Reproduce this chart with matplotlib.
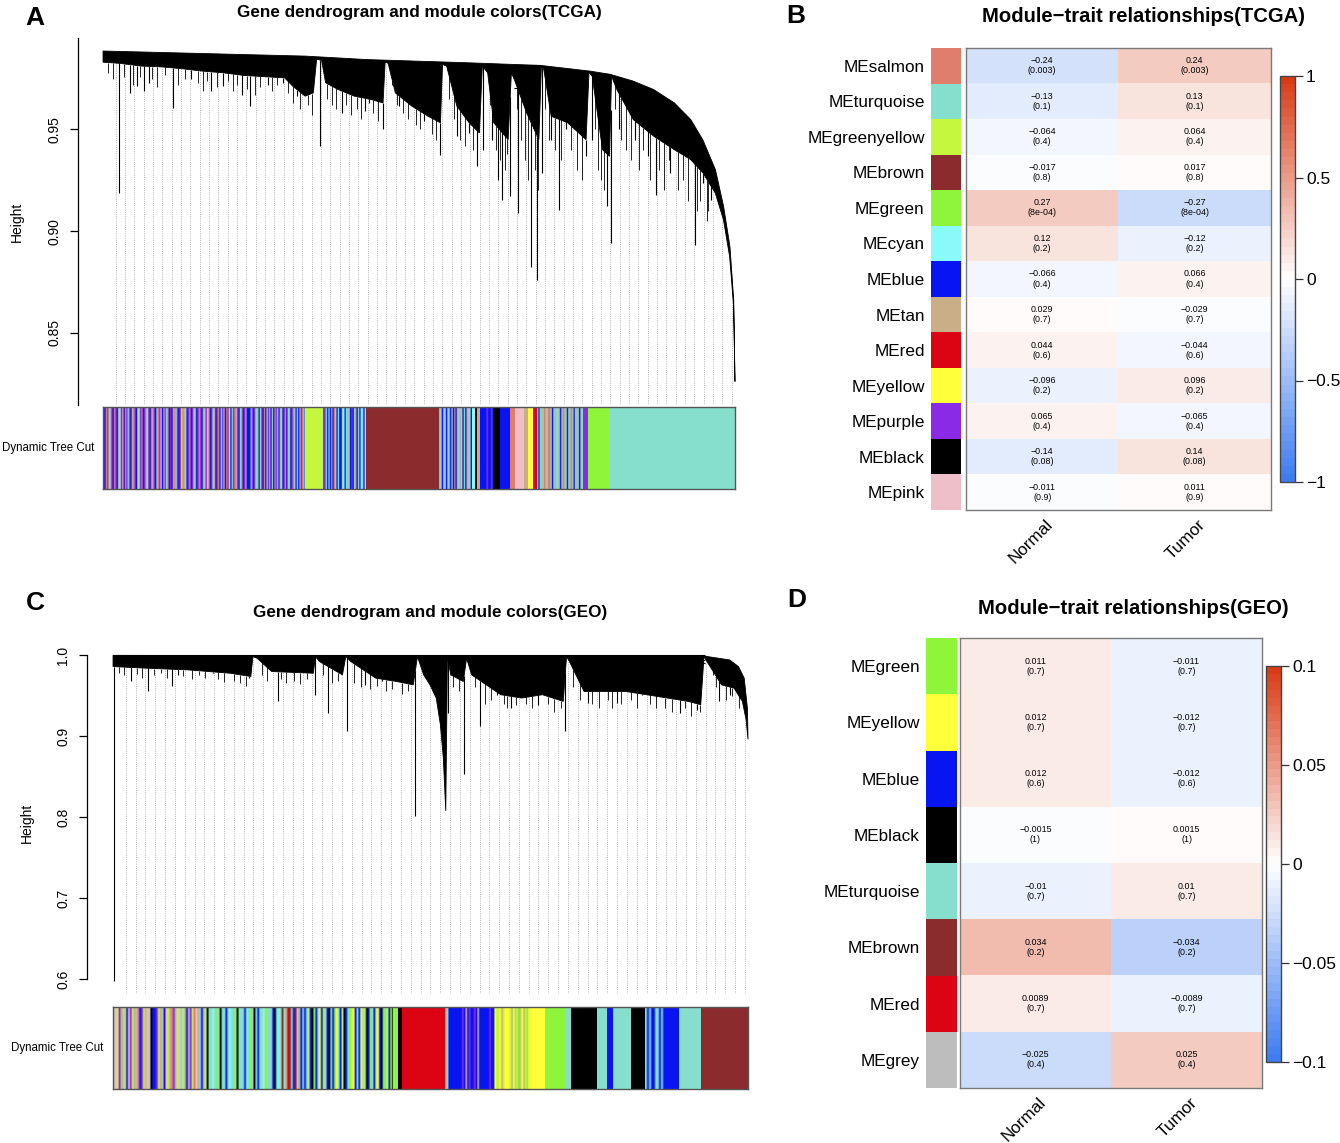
import numpy as np
import matplotlib
matplotlib.use("Agg")
import matplotlib.pyplot as plt
from matplotlib.colors import LinearSegmentedColormap, Normalize, to_rgb
from matplotlib.cm import ScalarMappable

plt.rcParams['font.family'] = ['Liberation Sans', 'DejaVu Sans']

W, H = 1340, 1143

module_hex = {
    'salmon': '#E07E6E', 'turquoise': '#86DFCC', 'greenyellow': '#C5F73F',
    'brown': '#8B2B2E', 'green': '#8EF53B', 'cyan': '#8AF9F9', 'blue': '#0814F2',
    'tan': '#C9AE88', 'red': '#DC0312', 'yellow': '#FFFF3A', 'purple': '#8A2AE6',
    'black': '#000000', 'pink': '#EEBFC9', 'grey': '#BDBDBD',
}
stripe_codes = {'p': 'purple', 'b': 'blue', 's': 'salmon', 't': 'turquoise', 'n': 'tan',
                'g': 'greenyellow', 'k': 'pink', 'r': 'brown', 'c': 'cyan', 'y': 'yellow',
                'e': 'red', 'm': 'green', 'x': 'black', 'o': 'grey'}

# ---- TCGA dendrogram (x: leaf position as fraction of genes, y: height)
tcga_top_f = [0.0, 0.32, 0.417, 0.579, 0.693, 0.771, 0.803, 0.839, 0.871, 0.904,
              0.930, 0.949, 0.969, 0.982, 0.992, 0.998, 1.0]
tcga_top_h = [0.9886, 0.9861, 0.9844, 0.9828, 0.9815, 0.9787, 0.9771, 0.9738, 0.9697, 0.9631,
              0.9549, 0.945, 0.9303, 0.9122, 0.8925, 0.8662, 0.826]
tcga_low_f = [0.0, 0.0278, 0.0602, 0.0927, 0.1251, 0.1576, 0.19, 0.2225, 0.2549, 0.2874,
              0.3003, 0.3198, 0.3328, 0.338, 0.3458, 0.3523, 0.3717, 0.3977, 0.4236, 0.4431,
              0.4464, 0.451, 0.4626, 0.4886, 0.5145, 0.534, 0.5372, 0.5437, 0.5599, 0.5794,
              0.5956, 0.6002, 0.6086, 0.6183, 0.641, 0.6462, 0.6508, 0.6703, 0.6897, 0.6936,
              0.6975, 0.7092, 0.7352, 0.7644, 0.769, 0.7741, 0.7904, 0.8014, 0.8047, 0.813,
              0.839, 0.8714, 0.9039, 0.9299, 0.9494, 0.9688, 0.9818, 0.9915, 0.9979, 1.0]
tcga_low_h = [0.9831, 0.9825, 0.9812, 0.9808, 0.9799, 0.9787, 0.9779, 0.9766, 0.976, 0.9754,
              0.9713, 0.9664, 0.968, 0.9845, 0.9841, 0.973, 0.9697, 0.9664, 0.9648, 0.9631,
              0.9831, 0.9828, 0.968, 0.9615, 0.9565, 0.9533, 0.982, 0.9812, 0.9615, 0.9533,
              0.9483, 0.9812, 0.9779, 0.9533, 0.945, 0.9779, 0.9746, 0.9582, 0.945, 0.9808,
              0.9795, 0.9565, 0.9533, 0.945, 0.9782, 0.9762, 0.9401, 0.9368, 0.9762, 0.9697,
              0.9549, 0.9467, 0.9401, 0.9352, 0.9286, 0.9188, 0.9056, 0.8876, 0.863, 0.826]
# long single branches hanging below the dense part
tcga_spike_f = [0.0245, 0.042, 0.0537, 0.0654, 0.0732, 0.1108, 0.1394, 0.1705, 0.19, 0.2192,
                0.2322, 0.2614, 0.2841, 0.3068, 0.3438, 0.3782, 0.4139, 0.4204, 0.4431, 0.4691,
                0.508, 0.5145, 0.534, 0.5599, 0.5794, 0.5911, 0.602, 0.615, 0.6248, 0.6313,
                0.6443, 0.6573, 0.6767, 0.6865, 0.6949, 0.7092, 0.7209, 0.732, 0.7644, 0.7741,
                0.7968, 0.8033, 0.8163, 0.8422, 0.8617, 0.8747, 0.8974, 0.9364, 0.9494, 0.9623]
tcga_spike_h = [0.9188, 0.968, 0.9713, 0.9689, 0.973, 0.9606, 0.9746, 0.9689, 0.9713, 0.9672,
                0.9615, 0.9721, 0.973, 0.9664, 0.9418, 0.9582, 0.959, 0.9631, 0.95, 0.9615,
                0.9541, 0.9582, 0.9377, 0.9467, 0.9483, 0.9319, 0.9401, 0.945, 0.9253, 0.9155,
                0.9171, 0.9089, 0.8826, 0.8761, 0.9286, 0.945, 0.9106, 0.95, 0.9368, 0.945,
                0.9122, 0.8941, 0.95, 0.945, 0.9368, 0.918, 0.9286, 0.8933, 0.9237, 0.9155]
# short hairs along the lower edge of the dense part
tcga_hair_f = [0.008, 0.015, 0.033, 0.048, 0.058, 0.078, 0.085, 0.098, 0.118, 0.13, 0.15,
               0.158, 0.165, 0.18, 0.198, 0.205, 0.212, 0.228, 0.24, 0.248, 0.268, 0.275,
               0.293, 0.3, 0.312, 0.325, 0.33, 0.355, 0.362, 0.368, 0.385, 0.392, 0.402, 0.408,
               0.428, 0.435, 0.458, 0.465, 0.475, 0.482, 0.495, 0.502, 0.52, 0.527, 0.548,
               0.555, 0.565, 0.572, 0.585, 0.592, 0.612, 0.622, 0.628, 0.636, 0.64, 0.655,
               0.662, 0.668, 0.672, 0.684, 0.688, 0.7, 0.705, 0.715, 0.725, 0.74, 0.75, 0.758,
               0.778, 0.783, 0.788, 0.792, 0.81, 0.82, 0.828, 0.835, 0.848, 0.855, 0.865, 0.88,
               0.888, 0.895, 0.91, 0.918, 0.925, 0.94, 0.945, 0.955, 0.958]
tcga_hair_h = [0.978, 0.975, 0.976, 0.972, 0.976, 0.975, 0.971, 0.977, 0.972, 0.975, 0.973,
               0.969, 0.974, 0.971, 0.974, 0.969, 0.972, 0.970, 0.967, 0.971, 0.969, 0.972,
               0.968, 0.963, 0.96, 0.962, 0.957, 0.965, 0.962, 0.96, 0.962, 0.957, 0.96, 0.955,
               0.958, 0.954, 0.972, 0.962, 0.958, 0.955, 0.952, 0.95, 0.948, 0.945, 0.965,
               0.955, 0.945, 0.942, 0.94, 0.938, 0.962, 0.94, 0.935, 0.93, 0.938, 0.96,
               0.945, 0.935, 0.925, 0.93, 0.92, 0.96, 0.945, 0.94, 0.935, 0.94, 0.93, 0.925,
               0.95, 0.93, 0.925, 0.92, 0.96, 0.945, 0.94, 0.935, 0.93, 0.94, 0.925, 0.93,
               0.92, 0.935, 0.92, 0.925, 0.915, 0.91, 0.915, 0.905, 0.91]
tcga_merge_f0 = [0.333, 0.417, 0.450, 0.599, 0.609, 0.651, 0.677, 0.680, 0.771, 0.797]
tcga_merge_f1 = [0.349, 0.450, 0.537, 0.693, 0.648, 0.664, 0.686, 0.686, 0.803, 0.803]
tcga_merge_h = [0.9853, 0.9836, 0.9828, 0.9815, 0.9784, 0.9705, 0.9549, 0.9508, 0.9771, 0.9565]

tcga_bar_edges = [0, 0.229, 0.320, 0.348, 0.416, 0.532, 0.584, 0.589, 0.592, 0.597, 0.604,
                  0.617, 0.628, 0.644, 0.652, 0.666, 0.672, 0.680, 0.687, 0.759, 0.767, 0.801, 1.0]
tcga_bar_mods = ['mixA1', 'mixA2', 'greenyellow', 'mixA3', 'brown', 'mixA4', 'cyan', 'black',
                 'tan', 'blue', 'mixA6', 'black', 'blue', 'salmon', 'pink', 'tan', 'yellow',
                 'red', 'mixA5', 'purple', 'green', 'turquoise']

# ---- GEO dendrogram
geo_top_f = [0.0, 0.93, 0.971, 0.985, 0.994, 0.999, 1.0]
geo_top_h = [0.9995, 0.9988, 0.9939, 0.9857, 0.9714, 0.9346, 0.896]
geo_low_f = [0.0, 0.053, 0.1186, 0.1842, 0.217, 0.2203, 0.2268, 0.2498, 0.3154, 0.3187,
             0.3252, 0.3613, 0.3666, 0.3744, 0.4138, 0.4466, 0.4728, 0.4794, 0.4892, 0.4991,
             0.509, 0.5155, 0.5201, 0.524, 0.5266, 0.5319, 0.5516, 0.5568, 0.5647, 0.6106,
             0.6434, 0.6762, 0.709, 0.7142, 0.7188, 0.7418, 0.7746, 0.8074, 0.8402, 0.873,
             0.9058, 0.9255, 0.9307, 0.9353, 0.9583, 0.978, 0.9911, 0.997, 1.0]
geo_low_h = [0.9857, 0.9837, 0.9816, 0.9775, 0.9735, 0.998, 0.996, 0.9796, 0.9775, 0.998,
             0.9919, 0.9755, 0.998, 0.9919, 0.9714, 0.9673, 0.9632, 0.998, 0.9755, 0.9632,
             0.9469, 0.9142, 0.8733, 0.8078, 0.998, 0.9755, 0.9673, 0.996, 0.9755, 0.951,
             0.9469, 0.951, 0.9428, 0.998, 0.9919, 0.955, 0.955, 0.955, 0.951, 0.9469,
             0.9428, 0.9387, 0.998, 0.9919, 0.9632, 0.9591, 0.9428, 0.92, 0.896]
geo_spike_f = [0.001, 0.0281, 0.055, 0.0924, 0.1022, 0.158, 0.2137, 0.2596, 0.3187, 0.3384,
               0.3679, 0.3974, 0.4236, 0.4466, 0.4761, 0.5273, 0.5529, 0.5778, 0.604, 0.627,
               0.6696, 0.7123, 0.7484, 0.7943, 0.8336, 0.8664, 0.8927, 0.9189, 0.955, 0.9714]
geo_spike_h = [0.598, 0.9673, 0.955, 0.9612, 0.9755, 0.9775, 0.9714, 0.9428, 0.951, 0.9285,
               0.906, 0.9632, 0.9673, 0.9714, 0.8017, 0.9285, 0.8528, 0.9121, 0.951, 0.9346,
               0.9387, 0.906, 0.9407, 0.9407, 0.951, 0.949, 0.9285, 0.9326, 0.9428, 0.951]
geo_hair_f = [0.01, 0.018, 0.038, 0.045, 0.065, 0.075, 0.085, 0.11, 0.125, 0.135, 0.145,
              0.165, 0.175, 0.19, 0.2, 0.21, 0.235, 0.242, 0.265, 0.272, 0.285, 0.295, 0.305,
              0.33, 0.345, 0.355, 0.38, 0.39, 0.405, 0.415, 0.43, 0.44, 0.455, 0.465, 0.535,
              0.545, 0.57, 0.585, 0.595, 0.615, 0.62, 0.635, 0.65, 0.66, 0.685, 0.695, 0.705,
              0.725, 0.735, 0.755, 0.765, 0.78, 0.785, 0.8, 0.815, 0.825, 0.845, 0.855, 0.87,
              0.88, 0.9, 0.91, 0.925, 0.945, 0.95, 0.965, 0.975, 0.985]
geo_hair_h = [0.978, 0.975, 0.976, 0.972, 0.975, 0.978, 0.972, 0.974, 0.97, 0.975, 0.971,
              0.97, 0.967, 0.968, 0.965, 0.962, 0.975, 0.968, 0.97, 0.966, 0.968, 0.964, 0.97,
              0.975, 0.965, 0.968, 0.965, 0.96, 0.958, 0.962, 0.955, 0.958, 0.952, 0.955, 0.96,
              0.955, 0.96, 0.94, 0.945, 0.94, 0.935, 0.938, 0.94, 0.935, 0.94, 0.93, 0.935,
              0.96, 0.945, 0.94, 0.935, 0.945, 0.935, 0.94, 0.945, 0.935, 0.94, 0.935, 0.935,
              0.93, 0.935, 0.925, 0.93, 0.975, 0.96, 0.945, 0.95, 0.935]
geo_merge_f0 = [0.0, 0.84, 0.893]
geo_merge_f1 = [0.932, 0.932, 0.932]
geo_merge_h = [1.0, 0.994, 0.990]

geo_bar_edges = [0, 0.441, 0.449, 0.455, 0.523, 0.656, 0.680, 0.714, 0.722, 0.762, 0.778,
                 0.788, 0.815, 0.838, 0.869, 0.892, 0.926, 1.0]
geo_bar_mods = ['mixC1', 'green', 'black', 'red', 'mixC2', 'yellow', 'green', 'turquoise',
                'black', 'turquoise', 'blue', 'turquoise', 'black', 'mixC3', 'blue',
                'turquoise', 'brown']

# striped stretches of the Dynamic Tree Cut bars, left to right
mixed_stripes = {
    'mixA1': 'pbsptnpbspbtkpnbsptpbnspbgtpsbpnt'
             'pbsnpbtspkbnptsbpbnstpbpgsntbpsbp'
             'tnbpspbtnpksbptnbpsbtpnbspgbtpsnpbtsbpnb',
    'mixA2': 'bbtpbstnbtpbsbtpnbtbsptbntbpsbtnbpstbtbnpstb',
    'mixA3': 'pptbtbnbstbtbbtcbtntbpbtsbtbctbc',
    'mixA4': 'ntbotbtnbtbsbtontbtbnotb',
    'mixA5': 'tbtntsntsstbtnttnbtsntbtnstbtntbnt',
    'mixA6': 'bpbbpb',
    'mixC1': 'okgpnogbkpgnosbpgnkoxbbpgnobkgnspogktgnbopgskntbog'
             'xttctmtxttbtcttmxtttbctmtxtbttcmtttbxtctrtnertbetn'
             'btbtgbxmbtybgtbxtbmytbgxbtmgybtbytgxbmtbgybxtmgbmx',
    'mixC2': 'ntbbbbbbbbpbnbpbbpbnbbbbbbpbbyggyngyyygnymgnmyngmy',
    'mixC3': 'tbtbbttbtb',
}

# ---- module-trait tables
tcga_modules = ['salmon', 'turquoise', 'greenyellow', 'brown', 'green', 'cyan', 'blue',
                'tan', 'red', 'yellow', 'purple', 'black', 'pink']
tcga_r_normal = [-0.24, -0.13, -0.064, -0.017, 0.27, 0.12, -0.066, 0.029, 0.044, -0.096,
                 0.065, -0.14, -0.011]
tcga_r_tumor = [0.24, 0.13, 0.064, 0.017, -0.27, -0.12, 0.066, -0.029, -0.044, 0.096,
                -0.065, 0.14, 0.011]
tcga_p = ['0.003', '0.1', '0.4', '0.8', '8e-04', '0.2', '0.4', '0.7', '0.6', '0.2', '0.4',
          '0.08', '0.9']

geo_modules = ['green', 'yellow', 'blue', 'black', 'turquoise', 'brown', 'red', 'grey']
geo_r_normal = [0.011, 0.012, 0.012, -0.0015, -0.01, 0.034, 0.0089, -0.025]
geo_r_tumor = [-0.011, -0.012, -0.012, 0.0015, 0.01, -0.034, -0.0089, 0.025]
geo_p = ['0.7', '0.7', '0.6', '1', '0.7', '0.2', '0.7', '0.4']

traits = ['Normal', 'Tumor']

cmap = LinearSegmentedColormap.from_list('bwr', ['#3E7CF0', '#FFFFFF', '#D83C16'], N=50)

fig = plt.figure(figsize=(W / 100, H / 100), dpi=100)


def px_axes(x0, y0, x1, y1):
    return fig.add_axes([x0 / W, 1 - y1 / H, (x1 - x0) / W, (y1 - y0) / H])


def px_text(x, y, s, **kw):
    fig.text(x / W, 1 - y / H, s, ha='center', va='center', **kw)


def draw_dendro(box, xlim, ylim, ticks, ticklabels, bounds, top_f, top_h, low_f, low_h,
                sp_f, sp_h, hair_f, hair_h, m0, m1, mh, n_guides):
    ax = px_axes(*box)
    ax.set_xlim(*xlim)
    ax.set_ylim(*ylim)
    top_f, top_h = np.array(top_f), np.array(top_h)
    low_f, low_h = np.array(low_f), np.array(low_h)
    gx = np.linspace(0.02, 0.995, n_guides)
    ax.vlines(gx, ylim[0], np.interp(gx, top_f, top_h), colors='#a0a0a0',
              linestyles=(0, (1, 1.6)), lw=0.6, zorder=1)
    ax.fill(np.r_[top_f, low_f[::-1]], np.r_[top_h, low_h[::-1]], facecolor='black',
            edgecolor='black', lw=0.6, zorder=2)
    ax.vlines(hair_f, hair_h, np.interp(hair_f, low_f, low_h), colors='black', lw=0.6, zorder=3)
    ax.vlines(sp_f, sp_h, np.interp(sp_f, low_f, low_h), colors='black', lw=0.8, zorder=3)
    ax.hlines(mh, m0, m1, colors='black', lw=0.8, zorder=3)
    for side in ['top', 'right', 'bottom']:
        ax.spines[side].set_visible(False)
    ax.spines['left'].set_linewidth(0.9)
    if bounds:
        ax.spines['left'].set_bounds(*bounds)
    ax.set_xticks([])
    ax.set_yticks(ticks)
    ax.set_yticklabels(ticklabels, fontsize=10, rotation=90, va='center')
    ax.tick_params(axis='y', length=6, width=0.9, pad=6)
    return ax


def draw_colorbar_row(box, edges, mods):
    ax = px_axes(*box)
    for a, b, m in zip(edges[:-1], edges[1:], mods):
        if m in mixed_stripes:
            row = np.array([[to_rgb(module_hex[stripe_codes[c]]) for c in mixed_stripes[m]]])
            ax.imshow(row, extent=(a, b, 0, 1), aspect='auto', interpolation='bilinear')
        else:
            ax.bar(a, 1, width=b - a, bottom=0, align='edge', color=module_hex[m], linewidth=0)
    ax.set_xlim(0, 1)
    ax.set_ylim(0, 1)
    ax.set_xticks([]); ax.set_yticks([])
    for s in ax.spines.values():
        s.set_edgecolor('#555555'); s.set_linewidth(1.0)


def draw_heat(box, mod_box, cb_box, mods, r_norm, r_tum, pvals, vlim, cticks, clabels):
    n = len(mods)
    axm = px_axes(*mod_box)
    axm.barh(np.arange(n), 1, height=1, left=0, color=[module_hex[m] for m in mods],
             linewidth=0)
    axm.set_xlim(0, 1); axm.set_ylim(n - 0.5, -0.5)
    axm.set_xticks([])
    axm.set_yticks(np.arange(n))
    axm.set_yticklabels(['ME' + m for m in mods], fontsize=12.3)
    axm.tick_params(axis='y', length=0, pad=4.5)
    for s in axm.spines.values():
        s.set_visible(False)

    axh = px_axes(*box)
    vals = np.column_stack([r_norm, r_tum])
    axh.imshow(vals, cmap=cmap, vmin=-vlim, vmax=vlim, aspect='auto', interpolation='nearest')
    axh.set_xticks([]); axh.set_yticks([])
    for s in axh.spines.values():
        s.set_edgecolor('#7a7a7a'); s.set_linewidth(1.0)
    for i in range(n):
        for j, col in enumerate([r_norm, r_tum]):
            txt = f'{col[i]}'.replace('-', '\u2212') + f'\n({pvals[i]})'
            axh.text(j, i, txt, ha='center', va='center', fontsize=6.4, linespacing=1.15)
    for j, t in enumerate(traits):
        axh.annotate(t, xy=(j, n - 0.5), xycoords='data', xytext=(2, -5),
                     textcoords='offset points', rotation=45, ha='right', va='top',
                     rotation_mode='anchor', fontsize=12.3, annotation_clip=False)

    cax = px_axes(*cb_box)
    cb = fig.colorbar(ScalarMappable(norm=Normalize(-vlim, vlim), cmap=cmap), cax=cax)
    cb.set_ticks(cticks)
    cb.set_ticklabels(clabels)
    cb.ax.tick_params(labelsize=12.5, length=6, width=0.9, color='#333333', pad=2)
    cb.outline.set_edgecolor('#444444')
    cb.outline.set_linewidth(1.0)


# ---- panel A
draw_dendro((78, 38, 760, 405), (-0.0396, 1.0396), (0.8145, 0.995),
            [0.85, 0.90, 0.95], ['0.85', '0.90', '0.95'], None,
            tcga_top_f, tcga_top_h, tcga_low_f, tcga_low_h, tcga_spike_f, tcga_spike_h,
            tcga_hair_f, tcga_hair_h, tcga_merge_f0, tcga_merge_f1, tcga_merge_h, 67)
draw_colorbar_row((103, 407, 735, 489), tcga_bar_edges, tcga_bar_mods)
px_text(419, 13, 'Gene dendrogram and module colors(TCGA)', fontsize=12.3, fontweight='bold')
px_text(17, 222, 'Height', fontsize=10, rotation=90)
px_text(48, 448, 'Dynamic Tree Cut', fontsize=8.3)
px_text(35, 18, 'A', fontsize=19, fontweight='bold')

# ---- panel C
draw_dendro((87, 642, 770, 994), (-0.041, 1.0346), (0.582, 1.016),
            [0.6, 0.7, 0.8, 0.9, 1.0], ['0.6', '0.7', '0.8', '0.9', '1.0'], (0.6, 1.0),
            geo_top_f, geo_top_h, geo_low_f, geo_low_h, geo_spike_f, geo_spike_h,
            geo_hair_f, geo_hair_h, geo_merge_f0, geo_merge_f1, geo_merge_h, 64)
draw_colorbar_row((113, 1007, 748, 1089), geo_bar_edges, geo_bar_mods)
px_text(430, 613, 'Gene dendrogram and module colors(GEO)', fontsize=12.3, fontweight='bold')
px_text(27, 823, 'Height', fontsize=10, rotation=90)
px_text(57, 1048, 'Dynamic Tree Cut', fontsize=8.3)
px_text(35, 603, 'C', fontsize=19, fontweight='bold')

# ---- panel B
draw_heat((966, 48, 1271, 510), (931, 48, 961, 510), (1280, 76, 1295, 482),
          tcga_modules, tcga_r_normal, tcga_r_tumor, tcga_p, 1.0,
          [-1, -0.5, 0, 0.5, 1], ['\u22121', '\u22120.5', '0', '0.5', '1'])
px_text(1143, 17, 'Module\u2212trait relationships(TCGA)', fontsize=14.6, fontweight='bold')
px_text(796, 16, 'B', fontsize=19, fontweight='bold')

# ---- panel D
draw_heat((960, 638, 1262, 1088), (926, 638, 957, 1088), (1266, 666, 1281, 1062),
          geo_modules, geo_r_normal, geo_r_tumor, geo_p, 0.1,
          [-0.1, -0.05, 0, 0.05, 0.1], ['\u22120.1', '\u22120.05', '0', '0.05', '0.1'])
px_text(1133, 608, 'Module\u2212trait relationships(GEO)', fontsize=14.6, fontweight='bold')
px_text(797, 600, 'D', fontsize=19, fontweight='bold')

fig.savefig('out.png', dpi=100)
